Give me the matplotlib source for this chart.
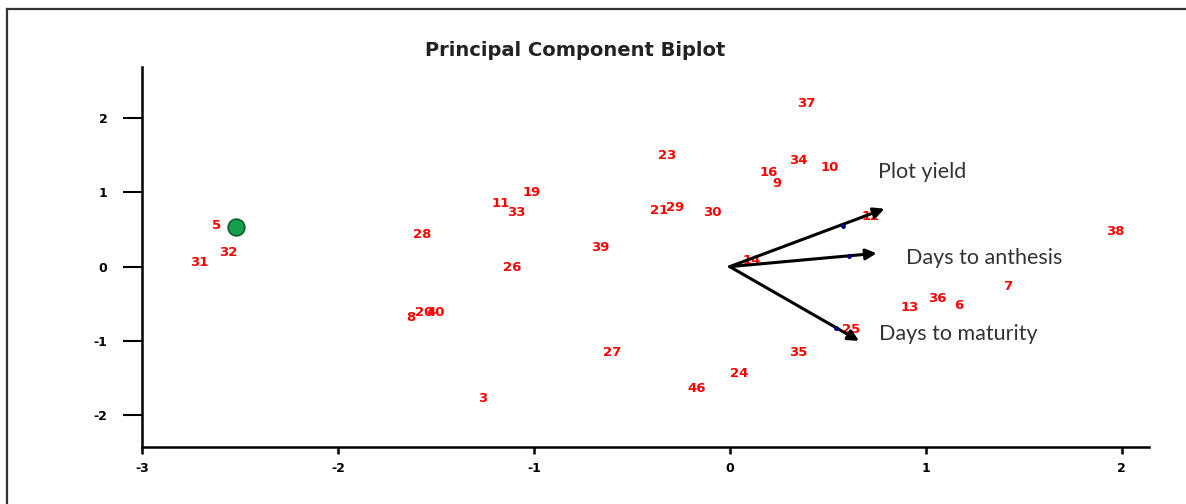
import matplotlib
matplotlib.use("Agg")
import matplotlib.pyplot as plt
from matplotlib.lines import Line2D

plt.rcParams["axes.unicode_minus"] = False

# genotype scores (label, PC1, PC2)
labels = ["5", "32", "31", "28", "11", "33", "19", "26", "8", "20", "40", "3",
          "37", "23", "34", "10", "16", "9", "21", "29", "30", "39", "12", "14",
          "38", "7", "36", "6", "13", "25", "27", "35", "24", "46"]
pc1 = [-2.62, -2.56, -2.71, -1.57, -1.17, -1.09, -1.01, -1.11, -1.63, -1.56, -1.50, -1.26,
       0.39, -0.32, 0.35, 0.51, 0.20, 0.24, -0.36, -0.28, -0.09, -0.66, 0.72, 0.11,
       1.97, 1.42, 1.06, 1.17, 0.92, 0.62, -0.60, 0.35, 0.05, -0.17]
pc2 = [0.55, 0.19, 0.05, 0.43, 0.85, 0.73, 1.00, -0.01, -0.69, -0.62, -0.62, -1.77,
       2.20, 1.50, 1.43, 1.34, 1.27, 1.12, 0.76, 0.80, 0.73, 0.26, 0.68, 0.08,
       0.47, -0.27, -0.43, -0.53, -0.55, -0.85, -1.16, -1.15, -1.44, -1.64]

# highlighted genotype
best_x = [-2.52]
best_y = [0.53]

# trait vectors
traits = ["Plot yield", "Days to anthesis", "Days to maturity"]
tip_x = [0.79, 0.75, 0.66]
tip_y = [0.78, 0.18, -1.00]
dot_x = [0.58, 0.61, 0.54]
dot_y = [0.55, 0.14, -0.82]
lab_x = [0.755, 0.90, 0.76]
lab_y = [1.27, 0.12, -0.91]

xticks = [-3, -2, -1, 0, 1, 2]
yticks = [-2, -1, 0, 1, 2]

fig = plt.figure(figsize=(11.86, 5.04), dpi=100)
ax = fig.add_axes([142 / 1186, 57 / 504, (1149 - 142) / 1186, (447 - 67) / 504])

for lb, x, y in zip(labels, pc1, pc2):
    ax.text(x, y, lb, color="red", fontsize=9.5, fontweight="bold",
            ha="center", va="center", zorder=2)

ax.plot(best_x, best_y, "o", markersize=12, color="#13a048",
        markeredgecolor="#0c5c2c", markeredgewidth=1.2, zorder=4)

for i in range(len(traits)):
    ax.annotate("", xy=(tip_x[i], tip_y[i]), xytext=(0, 0),
                arrowprops=dict(arrowstyle="-|>", color="black", lw=2.2,
                                mutation_scale=16, shrinkA=0, shrinkB=0),
                zorder=3)
    ax.text(lab_x[i], lab_y[i], traits[i], fontsize=15.5, family="Lato",
            color="#333333", ha="left", va="center", zorder=5)
ax.plot(dot_x, dot_y, "o", markersize=2.5, color="navy", zorder=4, linestyle="none")

ax.set_xlim(-3.0, 2.14)
ax.set_ylim(-2.43, 2.69)
ax.set_xticks(xticks)
ax.set_yticks(yticks)
ax.spines["top"].set_visible(False)
ax.spines["right"].set_visible(False)
ax.spines["left"].set_linewidth(1.8)
ax.spines["bottom"].set_linewidth(1.8)
ax.tick_params(axis="y", length=14, width=1.5, pad=11, labelsize=9)
ax.tick_params(axis="x", length=5, width=1.8, pad=6, labelsize=9)
for t in ax.get_xticklabels() + ax.get_yticklabels():
    t.set_fontweight("bold")

fig.text(575 / 1186, 1 - 50 / 504, "Principal Component Biplot", fontsize=14,
         fontweight="bold", color="#222222", ha="center", va="center")

# outer frame (cut off at right and bottom in the original)
fig.add_artist(Line2D([7 / 1186, 1], [1 - 8.5 / 504, 1 - 8.5 / 504],
                      transform=fig.transFigure, color="#333333", lw=1.6))
fig.add_artist(Line2D([7 / 1186, 7 / 1186], [0, 1 - 8.5 / 504],
                      transform=fig.transFigure, color="#333333", lw=1.6))

fig.savefig("out.png", dpi=100)
